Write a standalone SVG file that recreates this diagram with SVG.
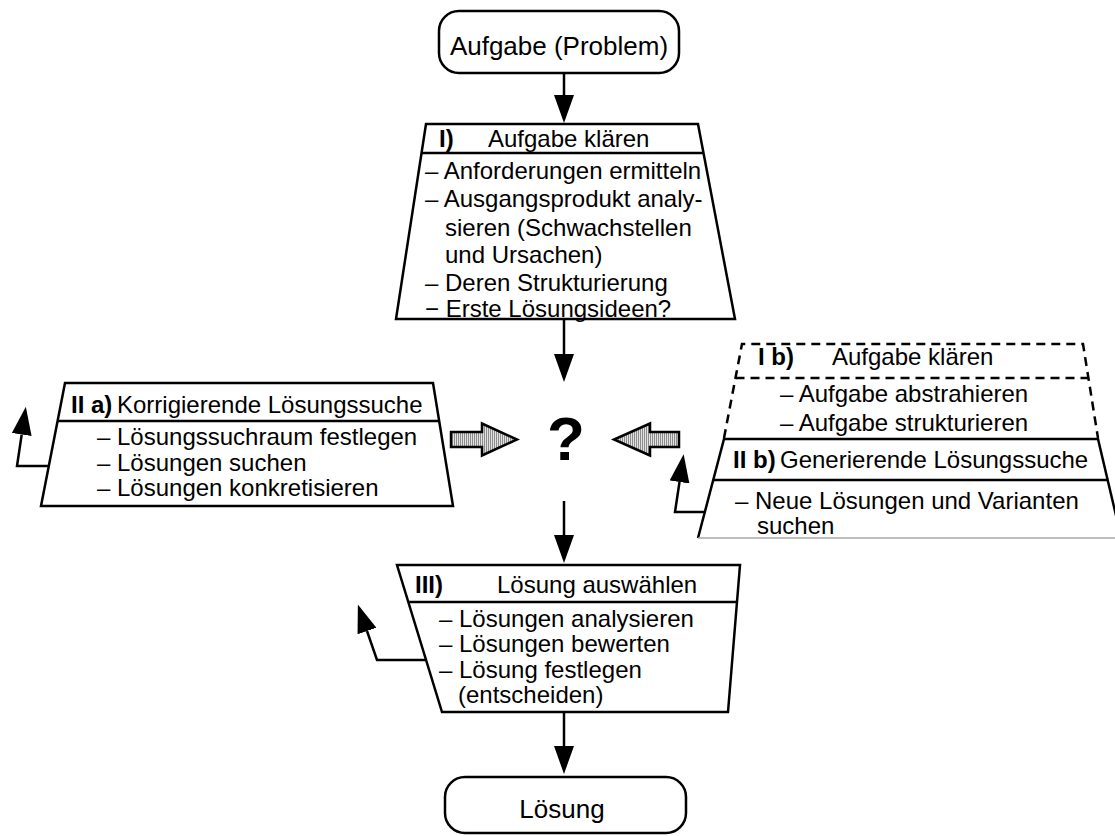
<svg xmlns="http://www.w3.org/2000/svg" width="1115" height="836" viewBox="0 0 1115 836">
  <style>
    .shape { fill: #fff; stroke: #000; stroke-width: 2.5; stroke-linejoin: miter; }
    .sep { fill: none; stroke: #000; stroke-width: 2.5; }
    .dash { fill: none; stroke: #000; stroke-width: 2.5; stroke-dasharray: 9 6; }
    .conn { fill: none; stroke: #000; stroke-width: 2.5; }
    .block { fill: url(#stripes); stroke: #000; stroke-width: 2.5; stroke-linejoin: miter; }
    text { font-family: "Liberation Sans", Arial, sans-serif; fill: #000; }
    .t { font-size: 24px; }
    .big { font-size: 26px; }
    .b { font-weight: bold; }
    .q { font-size: 62px; font-weight: bold; }
  </style>
  <defs>
    <pattern id="stripes" width="2" height="4" patternUnits="userSpaceOnUse">
      <rect width="2" height="4" fill="#e2e2e2"/>
      <rect width="1" height="4" fill="#8c8c8c"/>
    </pattern>
    <!-- filled arrowhead; the line stops at the base of the head -->
    <marker id="head" markerUnits="userSpaceOnUse" viewBox="0 0 28 20" markerWidth="28" markerHeight="20" refX="0" refY="10" orient="auto">
      <path d="M0,0 L28,10 L0,20 Z" fill="#000"/>
    </marker>
  </defs>

  <!-- start node -->
  <g id="start">
    <rect class="shape" x="439" y="11" width="240" height="62" rx="20" ry="20"/>
    <text class="big" x="559" y="55" text-anchor="middle">Aufgabe (Problem)</text>
  </g>

  <!-- I) clarify the task -->
  <g id="step1">
    <polygon class="shape" points="426,124 698,124 735,319 396,319"/>
    <line class="sep" x1="421.5" y1="153" x2="703.5" y2="153"/>
    <text class="t b" x="439" y="147">I)</text>
    <text class="t" x="488" y="147">Aufgabe klären</text>
    <text class="t" x="425" y="179">– Anforderungen ermitteln</text>
    <text class="t" x="425" y="207">– Ausgangsprodukt analy-</text>
    <text class="t" x="445" y="236">sieren (Schwachstellen</text>
    <text class="t" x="445" y="263">und Ursachen)</text>
    <text class="t" x="425" y="291">– Deren Strukturierung</text>
    <text class="t" x="425" y="317">− Erste Lösungsideen?</text>
  </g>

  <!-- II a) corrective search -->
  <g id="step2a">
    <polygon class="shape" points="65,383 433,383 453,506 41,506"/>
    <line class="sep" x1="57.6" y1="421" x2="439.2" y2="421"/>
    <text class="t b" x="71" y="413">II a)</text>
    <text class="t" x="117" y="413">Korrigierende Lösungssuche</text>
    <text class="t" x="97" y="445">– Lösungssuchraum festlegen</text>
    <text class="t" x="97" y="471">– Lösungen suchen</text>
    <text class="t" x="97" y="496">– Lösungen konkretisieren</text>
  </g>

  <!-- open question in the middle -->
  <g id="question">
    <text class="q" x="566" y="460" text-anchor="middle">?</text>
  </g>

  <!-- I b) abstract the task (optional, dashed) -->
  <g id="step1b">
    <path class="dash" d="M724,438 L742,344 L1083,344 L1098,438"/>
    <line class="dash" x1="735.5" y1="378" x2="1088.4" y2="378"/>
    <text class="t b" x="758" y="365">I b)</text>
    <text class="t" x="832" y="365">Aufgabe klären</text>
    <text class="t" x="780" y="402">– Aufgabe abstrahieren</text>
    <text class="t" x="780" y="431">– Aufgabe strukturieren</text>
  </g>

  <!-- II b) generative search -->
  <g id="step2b">
    <path class="shape" d="M698,538 L724,439 L1098,439 L1123,545"/>
    <line x1="698" y1="538" x2="1115" y2="538" stroke="#a8a8a8" stroke-width="1.5"/>
    <line class="sep" x1="713.3" y1="480" x2="1107.6" y2="480"/>
    <text class="t b" x="733" y="468">II b)</text>
    <text class="t" x="780" y="468">Generierende Lösungssuche</text>
    <text class="t" x="735" y="509">– Neue Lösungen und Varianten</text>
    <text class="t" x="757" y="534">suchen</text>
  </g>

  <!-- III) select a solution -->
  <g id="step3">
    <polygon class="shape" points="397,565 740,565 728,712 442,712"/>
    <line class="sep" x1="408.3" y1="602" x2="737" y2="602"/>
    <text class="t b" x="415" y="593">III)</text>
    <text class="t" x="497" y="593">Lösung auswählen</text>
    <text class="t" x="439" y="627">– Lösungen analysieren</text>
    <text class="t" x="439" y="652">– Lösungen bewerten</text>
    <text class="t" x="439" y="678">– Lösung festlegen</text>
    <text class="t" x="458" y="703">(entscheiden)</text>
  </g>

  <!-- end node -->
  <g id="end">
    <rect class="shape" x="445" y="777" width="241" height="56" rx="20" ry="20"/>
    <text class="big" x="562" y="818" text-anchor="middle">Lösung</text>
  </g>

  <!-- connectors -->
  <g id="connectors">
    <line class="conn" x1="564" y1="73" x2="564" y2="95" marker-end="url(#head)"/>
    <line class="conn" x1="564" y1="320" x2="564" y2="354" marker-end="url(#head)"/>
    <line class="conn" x1="564" y1="501" x2="564" y2="535" marker-end="url(#head)"/>
    <line class="conn" x1="564" y1="712" x2="564" y2="746" marker-end="url(#head)"/>
    <!-- feedback loops -->
    <polyline class="conn" points="49,466 17,466 21.7,434.5" marker-end="url(#head)"/>
    <polyline class="conn" points="705,512 675,512 679.5,482" marker-end="url(#head)"/>
    <polyline class="conn" points="426,660 377,660 367,631" marker-end="url(#head)"/>
    <!-- wide block arrows towards the question -->
    <polygon class="block" points="451,432 482,432 482,423.5 517,439.5 482,455.5 482,447 451,447"/>
    <polygon class="block" points="679,432 650,432 650,423.5 614,439.5 650,455.5 650,447 679,447"/>
  </g>
</svg>
